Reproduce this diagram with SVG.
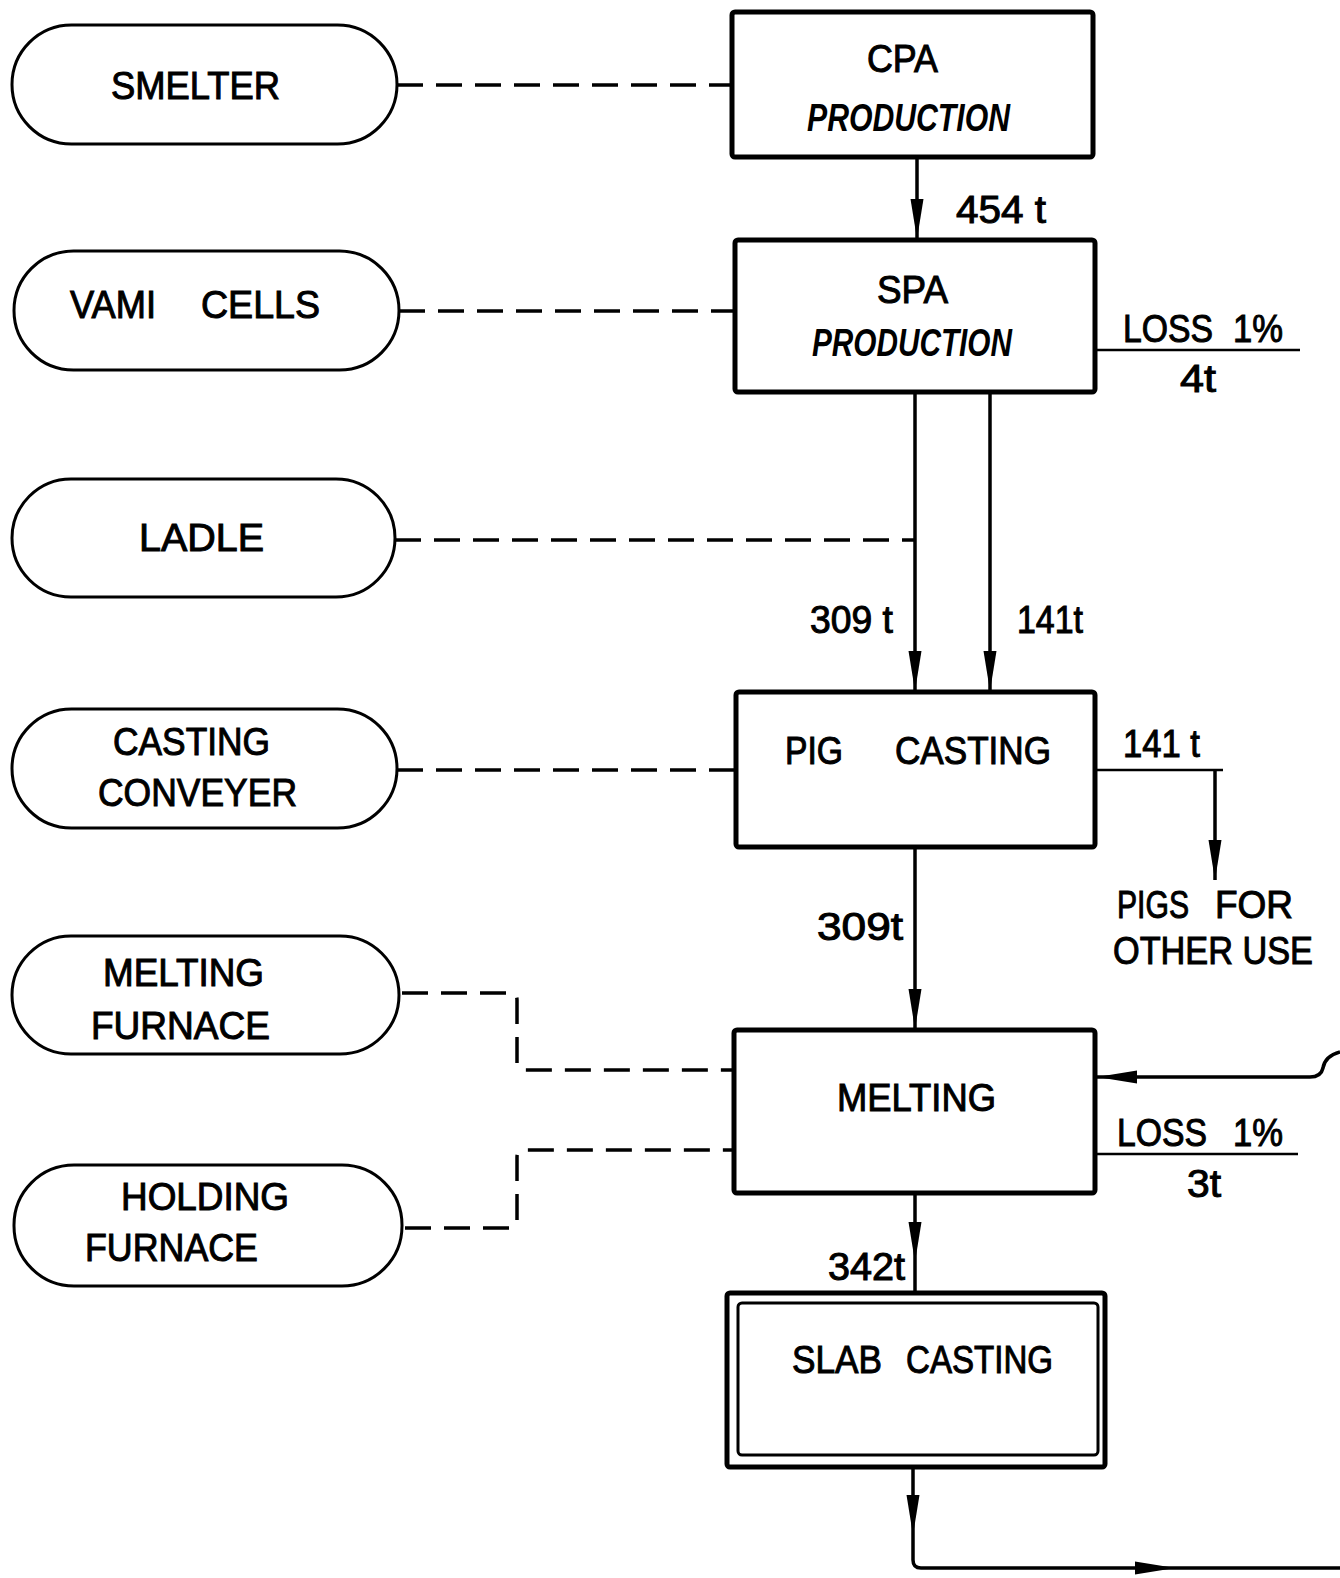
<svg xmlns="http://www.w3.org/2000/svg" width="1340" height="1578" viewBox="0 0 1340 1578">
<style>
.box{fill:#fff;stroke:#000;stroke-width:5;}
.pill{fill:#fff;stroke:#000;stroke-width:3;}
.t{font-family:"Liberation Sans",Arial,sans-serif;font-size:38px;fill:#000;stroke:#000;stroke-width:1;}
.h{font-family:"Liberation Sans",Arial,sans-serif;font-size:38px;font-style:italic;font-weight:bold;fill:#000;}
.dash{fill:none;stroke:#000;stroke-width:3.5;stroke-dasharray:26 13;}
.ln{fill:none;stroke:#000;stroke-width:3.5;}
.thin{fill:none;stroke:#000;stroke-width:2.5;}
</style>
<defs>
<path id="ah" d="M-6.5,-40 L6.5,-40 L0,0 Z" fill="#000"/>
</defs>
<rect width="1340" height="1578" fill="#fff"/>

<g id="connectors">
<path class="dash" d="M397,85 H732"/>
<path class="dash" d="M399,311 H735"/>
<path class="dash" d="M395,540 H915"/>
<path class="dash" d="M397,770 H736"/>
<path class="dash" d="M402,993 H510 Q517,993 517,1000 V1063 Q517,1070 524,1070 H734"/>
<path class="dash" d="M405,1228 H510 Q517,1228 517,1221 V1157 Q517,1150 524,1150 H734"/>
<path class="ln" d="M917,159 V240"/>
<use href="#ah" transform="translate(917,239)"/>
<path class="ln" d="M915,394 V692"/>
<use href="#ah" transform="translate(915,691)"/>
<path class="ln" d="M990,394 V692"/>
<use href="#ah" transform="translate(990,691)"/>
<path class="ln" d="M915,847 V1030"/>
<use href="#ah" transform="translate(915,1029)"/>
<path class="ln" d="M915,1193 V1293"/>
<use href="#ah" transform="translate(915,1262)"/>
<path class="ln" d="M913,1469 V1560 Q913,1568 921,1568 H1340"/>
<use href="#ah" transform="translate(913,1535)"/>
<use href="#ah" transform="translate(1175,1568) rotate(-90)"/>
<path class="thin" d="M1095,350 H1300"/>
<path class="thin" d="M1095,770 H1223"/>
<path class="ln" d="M1215,770 V880"/>
<use href="#ah" transform="translate(1215,880)"/>
<path class="ln" d="M1340,1052 Q1325,1056 1323,1068 Q1321,1077 1310,1077 H1097"/>
<use href="#ah" transform="translate(1097,1077) rotate(90)"/>
<path class="thin" d="M1097,1154 H1298"/>
</g>

<g id="cpa">
<rect class="box" x="732" y="12" width="361" height="145" rx="3"/>
<text class="t" x="867" y="72" textLength="71" lengthAdjust="spacingAndGlyphs">CPA</text>
<text class="h" x="807" y="131" textLength="203" lengthAdjust="spacingAndGlyphs">PRODUCTION</text>
</g>
<g id="spa">
<rect class="box" x="735" y="240" width="360" height="152" rx="3"/>
<text class="t" x="877" y="303" textLength="71" lengthAdjust="spacingAndGlyphs">SPA</text>
<text class="h" x="812" y="356" textLength="200" lengthAdjust="spacingAndGlyphs">PRODUCTION</text>
</g>
<g id="pig-casting">
<rect class="box" x="736" y="692" width="359" height="155" rx="3"/>
<text class="t" x="785" y="764" textLength="58" lengthAdjust="spacingAndGlyphs">PIG</text>
<text class="t" x="895" y="764" textLength="156" lengthAdjust="spacingAndGlyphs">CASTING</text>
</g>
<g id="melting">
<rect class="box" x="734" y="1030" width="361" height="163" rx="3"/>
<text class="t" x="837" y="1111" textLength="159" lengthAdjust="spacingAndGlyphs">MELTING</text>
</g>
<g id="slab-casting">
<rect class="box" x="727" y="1293" width="378" height="174" rx="3"/>
<rect x="738" y="1303" width="360" height="152" rx="4" fill="none" stroke="#000" stroke-width="3"/>
<text class="t" x="792" y="1373" textLength="90" lengthAdjust="spacingAndGlyphs">SLAB</text>
<text class="t" x="906" y="1373" textLength="147" lengthAdjust="spacingAndGlyphs">CASTING</text>
</g>

<g id="smelter">
<rect class="pill" x="12" y="25" width="385" height="119" rx="59.5"/>
<text class="t" x="111" y="99" textLength="169" lengthAdjust="spacingAndGlyphs">SMELTER</text>
</g>
<g id="vami-cells">
<rect class="pill" x="14" y="251" width="385" height="119" rx="59.5"/>
<text class="t" x="70" y="318" textLength="86" lengthAdjust="spacingAndGlyphs">VAMI</text>
<text class="t" x="201" y="318" textLength="119" lengthAdjust="spacingAndGlyphs">CELLS</text>
</g>
<g id="ladle">
<rect class="pill" x="12" y="479" width="383" height="118" rx="59"/>
<text class="t" x="139" y="551" textLength="125" lengthAdjust="spacingAndGlyphs">LADLE</text>
</g>
<g id="casting-conveyer">
<rect class="pill" x="12" y="709" width="385" height="119" rx="59.5"/>
<text class="t" x="113" y="755" textLength="157" lengthAdjust="spacingAndGlyphs">CASTING</text>
<text class="t" x="98" y="806" textLength="199" lengthAdjust="spacingAndGlyphs">CONVEYER</text>
</g>
<g id="melting-furnace">
<rect class="pill" x="12" y="936" width="387" height="118" rx="59"/>
<text class="t" x="103" y="986" textLength="161" lengthAdjust="spacingAndGlyphs">MELTING</text>
<text class="t" x="91" y="1039" textLength="179" lengthAdjust="spacingAndGlyphs">FURNACE</text>
</g>
<g id="holding-furnace">
<rect class="pill" x="14" y="1165" width="388" height="121" rx="60"/>
<text class="t" x="121" y="1210" textLength="168" lengthAdjust="spacingAndGlyphs">HOLDING</text>
<text class="t" x="85" y="1261" textLength="173" lengthAdjust="spacingAndGlyphs">FURNACE</text>
</g>

<g id="labels">
<text class="t" x="956" y="223" textLength="90" lengthAdjust="spacingAndGlyphs">454 t</text>
<text class="t" x="810" y="633" textLength="83" lengthAdjust="spacingAndGlyphs">309 t</text>
<text class="t" x="1017" y="633" textLength="66" lengthAdjust="spacingAndGlyphs">141t</text>
<text class="t" x="817" y="940" textLength="86" lengthAdjust="spacingAndGlyphs">309t</text>
<text class="t" x="828" y="1280" textLength="77" lengthAdjust="spacingAndGlyphs">342t</text>
<text class="t" x="1123" y="342" textLength="90" lengthAdjust="spacingAndGlyphs">LOSS</text>
<text class="t" x="1233" y="342" textLength="50" lengthAdjust="spacingAndGlyphs">1%</text>
<text class="t" x="1180" y="392" textLength="36" lengthAdjust="spacingAndGlyphs">4t</text>
<text class="t" x="1123" y="757" textLength="77" lengthAdjust="spacingAndGlyphs">141 t</text>
<text class="t" x="1117" y="918" textLength="72" lengthAdjust="spacingAndGlyphs">PIGS</text>
<text class="t" x="1215" y="918" textLength="78" lengthAdjust="spacingAndGlyphs">FOR</text>
<text class="t" x="1113" y="964" textLength="200" lengthAdjust="spacingAndGlyphs">OTHER USE</text>
<text class="t" x="1117" y="1146" textLength="90" lengthAdjust="spacingAndGlyphs">LOSS</text>
<text class="t" x="1233" y="1146" textLength="50" lengthAdjust="spacingAndGlyphs">1%</text>
<text class="t" x="1187" y="1197" textLength="34" lengthAdjust="spacingAndGlyphs">3t</text>
</g>
</svg>
